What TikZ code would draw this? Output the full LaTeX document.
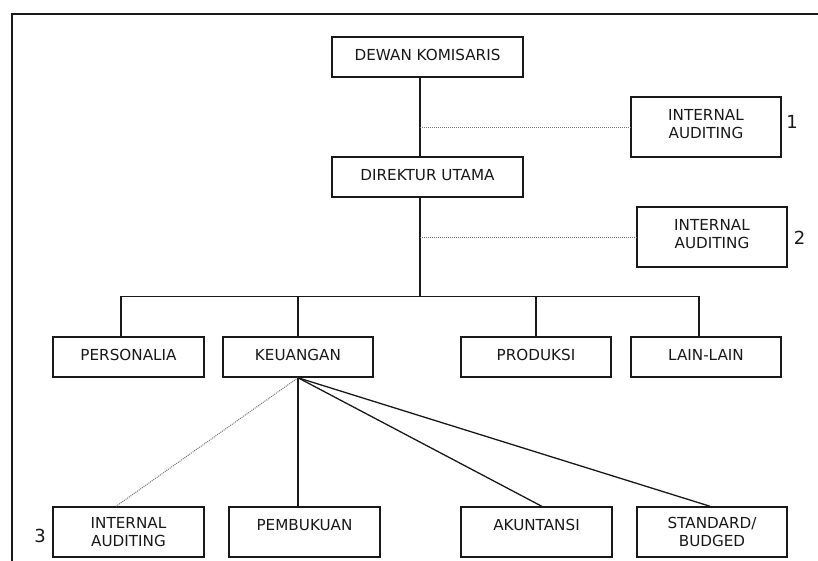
\documentclass[tikz,border=0pt]{standalone}
\usepackage{fontspec}
\setmainfont{DejaVu Sans}
\begin{document}
\begin{tikzpicture}[x=1pt,y=-1pt,
  box/.style={draw=black!90, line width=1.5pt, minimum width=150pt, minimum height=40pt, inner sep=0pt, align=center, text=black!90, font=\fontsize{15.2}{18}\selectfont},
  onel/.style={text depth=5pt},
  tallbox/.style={box, minimum height=50pt},
  talltop/.style={text depth=14.5pt},
  audbox/.style={box, minimum height=60pt, text depth=6pt},
  twol/.style={text depth=-3.5pt},
  wide/.style={minimum width=191pt},
  conn/.style={draw=black!90, line width=1.3pt},
  dotline/.style={draw=black!55, line width=1pt, densely dotted},
  num/.style={font=\fontsize{18}{20}\selectfont, inner sep=0pt, text=black!90}]
\useasboundingbox (0,0) rectangle (818,560);
\clip (0,0) rectangle (818,560);
\draw[line width=2pt, draw=black!90] (12,600) -- (12,13.5) -- (840,13.5);

\node[box, onel, wide] (dk) at (427.5,57) {DEWAN KOMISARIS};
\node[box, onel, wide] (du) at (427.5,177) {DIREKTUR UTAMA};
\node[audbox] (ia1) at (706,127) {INTERNAL\\AUDITING};
\node[audbox] (ia2) at (712,237) {INTERNAL\\AUDITING};
\node[box, onel, minimum width=151pt] (per) at (128.5,357) {PERSONALIA};
\node[box, onel] (keu) at (298,357) {KEUANGAN};
\node[box, onel] (pro) at (536,357) {PRODUKSI};
\node[box, onel] (lain) at (706,357) {LAIN-LAIN};
\node[tallbox, twol, minimum width=151pt] (ia3) at (128.5,532) {INTERNAL\\AUDITING};
\node[tallbox, talltop, minimum width=151pt] (pem) at (304.5,532) {PEMBUKUAN};
\node[tallbox, talltop, minimum width=151pt] (aku) at (536.5,532) {AKUNTANSI};
\node[tallbox, twol] (std) at (712,532) {STANDARD/\\BUDGED};
\node[num] (n1) at (792,122) {1};
\node[num] (n2) at (799.5,238) {2};
\node[num] (n3) at (40,536) {3};

\coordinate (sx) at (420,0);
\coordinate (bar) at (0,296.5);
\coordinate (px) at (121,0);
\coordinate (lx) at (699,0);
\coordinate (a3) at (116,0);
\coordinate (aak) at (541.7,0);
\coordinate (ast) at (710,0);

\draw[conn] (dk.south -| sx) -- (du.north -| sx);
\draw[dotline] (ia1.west -| sx) -- (ia1.west);
\draw[conn] (du.south -| sx) -- (sx |- bar);
\draw[dotline] (ia2.west -| sx) -- (ia2.west);
\draw[conn] (per.north -| px) -- (px |- bar) -- (lx |- bar) -- (lain.north -| lx);
\draw[conn] (keu.north) -- (keu.north |- bar);
\draw[conn] (pro.north) -- (pro.north |- bar);
\draw[dotline] (keu.south) -- (ia3.north -| a3);
\draw[conn] (keu.south) -- (keu.south |- pem.north);
\draw[conn] (keu.south) -- (aku.north -| aak);
\draw[conn] (keu.south) -- (std.north -| ast);
\end{tikzpicture}
\end{document}
